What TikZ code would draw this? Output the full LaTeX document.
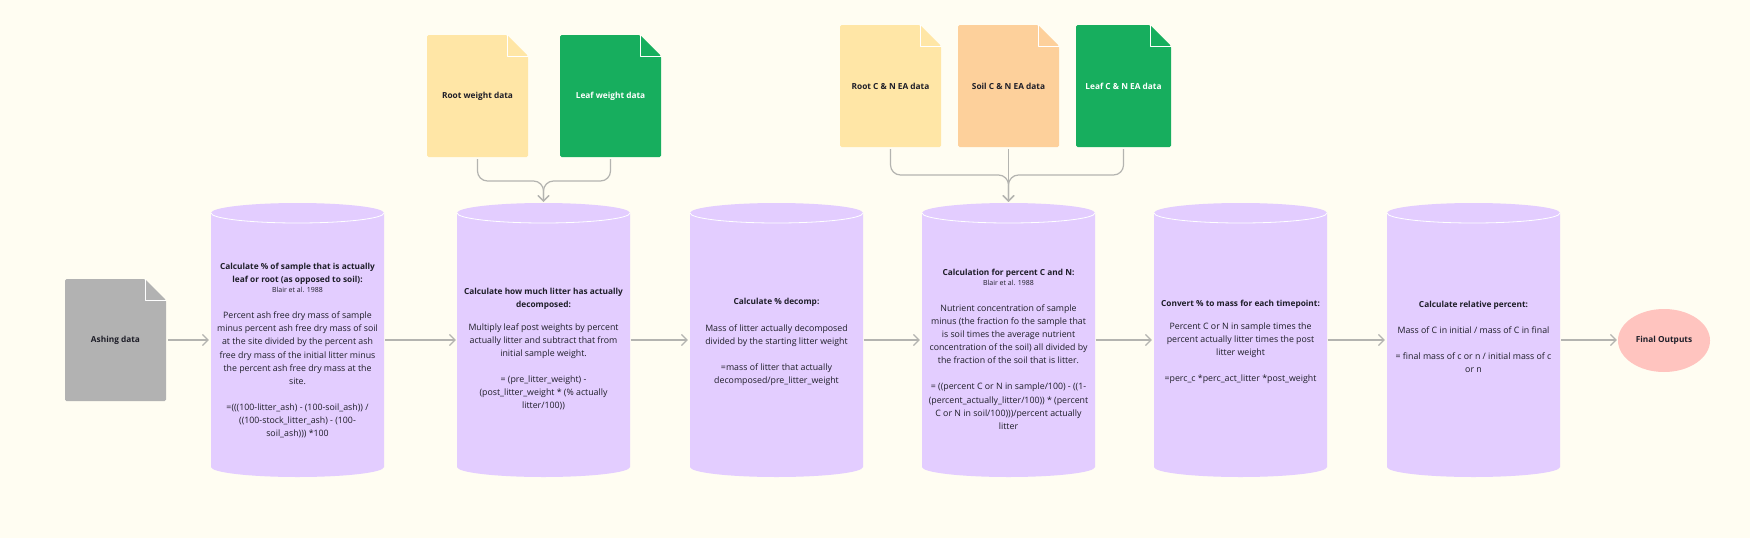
\documentclass[tikz,border=0pt]{standalone}
\usepackage{fontspec}
\setmainfont{Open Sans}
\usetikzlibrary{arrows.meta,shapes.geometric}
\definecolor{bgc}{HTML}{FFFDF2}
\definecolor{cylc}{HTML}{E3CDFF}
\definecolor{yelc}{HTML}{FFE6A6}
\definecolor{orac}{HTML}{FDD09B}
\definecolor{grnc}{HTML}{17AE5E}
\definecolor{gryc}{HTML}{B2B2B2}
\definecolor{pnkc}{HTML}{FFC4BF}
\definecolor{linc}{HTML}{B4B4B0}
\definecolor{txtc}{HTML}{1E1E28}
\newcommand{\hd}[1]{{\fontsize{8.3}{13.1}\selectfont\bfseries #1}}
\tikzset{
  x=1pt,y=-1pt,
  conn/.style={draw=linc,line width=1.2pt,-{Straight Barb[length=5.5pt,width=11pt,line width=1.2pt]}},
  merge/.style={conn,rounded corners=10pt},
  cylbody/.style={minimum width=173pt,minimum height=274pt,inner sep=0pt},
  cyltext/.style={align=center,inner sep=0pt,text=txtc,font=\fontsize{8.8}{13.1}\selectfont},
  docbody/.style={minimum height=122pt,inner sep=0pt,align=center,font=\fontsize{8.3}{12}\selectfont\bfseries},
  final/.style={ellipse,fill=pnkc,minimum width=92pt,minimum height=63pt,inner sep=0pt,text=txtc,font=\fontsize{8.3}{12}\selectfont\bfseries},
}
\newcommand{\CylShape}[2]{% name, centre x
  \begin{scope}[shift={(#2,0)}]
    \fill[cylc] (-86.5,213) .. controls +(0,-5.5) and +(-47.6,0) .. (0,203)
       .. controls +(47.6,0) and +(0,-5.5) .. (86.5,213) -- (86.5,467)
       .. controls +(0,5.5) and +(47.6,0) .. (0,477)
       .. controls +(-47.6,0) and +(0,5.5) .. (-86.5,467) -- cycle;
    \draw[white,line width=0.8pt] (-86.5,213) .. controls +(0,5.5) and +(-47.6,0) .. (0,223)
       .. controls +(47.6,0) and +(0,5.5) .. (86.5,213);
    \node[cylbody] (#1) at (0,340) {};
  \end{scope}
}
\newcommand{\DocShape}[7]{% name, left x, top y, width, fill, text colour, label
  \begin{scope}[shift={(#2,#3)}]
    \fill[#5,rounded corners=1.5pt] (0,0) -- (#4-21,0) -- (#4,21) -- (#4,122) -- (0,122) -- cycle;
    \draw[white,line width=0.8pt,line join=round] (#4-21,0) -- (#4-21,21) -- (#4,21);
    \node[docbody,minimum width=#4 pt,text=#6] (#1) at (#4/2,61) {#7};
  \end{scope}
}
\newcommand{\smalltxt}[1]{{\fontsize{7}{10}\selectfont #1}}
\begin{document}
\begin{tikzpicture}
\fill[bgc] (0,0) rectangle (1750,538);
\useasboundingbox (0,0) rectangle (1750,538);

\DocShape{ash}{65}{279}{101}{gryc}{txtc}{Ashing data}
\DocShape{rootw}{427}{35}{101}{yelc}{txtc}{Root weight data}
\DocShape{leafw}{560}{35}{101}{grnc}{white}{Leaf weight data}
\DocShape{rootea}{840}{25}{101}{yelc}{txtc}{Root C \& N EA data}
\DocShape{soilea}{958}{25}{101}{orac}{txtc}{Soil C \& N EA data}
\DocShape{leafea}{1076}{25}{95}{grnc}{white}{Leaf C \& N EA data}

\CylShape{c1}{297.5}
\CylShape{c2}{543.5}
\CylShape{c3}{776.5}
\CylShape{c4}{1008.5}
\CylShape{c5}{1240.5}
\CylShape{c6}{1473.5}

\node[cyltext] (t1) at (297.5,350.5) {\hd{Calculate \% of sample that is actually}\\\hd{leaf or root (as opposed to soil):}\\[-3pt]\smalltxt{Blair et al. 1988}\\[13.1pt]Percent ash free dry mass of sample\\minus percent ash free dry mass of soil\\at the site divided by the percent ash\\free dry mass of the initial litter minus\\the percent ash free dry mass at the\\site.\\[13.1pt]=(((100-litter\_ash) - (100-soil\_ash)) /\\((100-stock\_litter\_ash) - (100-\\soil\_ash))) *100};
\node[cyltext] (t2) at (543.5,349) {\hd{Calculate how much litter has actually}\\\hd{decomposed:}\\[10pt]Multiply leaf post weights by percent\\actually litter and subtract that from\\initial sample weight.\\[13.1pt]= (pre\_litter\_weight) -\\(post\_litter\_weight * (\% actually\\litter/100))};
\node[cyltext] (t3) at (776.5,342) {\hd{Calculate \% decomp:}\\[13.1pt]Mass of litter actually decomposed\\divided by the starting litter weight\\[13.1pt]=mass of litter that actually\\decomposed/pre\_litter\_weight};
\node[cyltext] (t4) at (1008.5,349) {\hd{Calculation for percent C and N:}\\[-3pt]\smalltxt{Blair et al. 1988}\\[13.1pt]Nutrient concentration of sample\\minus (the fraction fo the sample that\\is soil times the average nutrient\\concentration of the soil) all divided by\\the fraction of the soil that is litter.\\[13.1pt]= ((percent C or N in sample/100) - ((1-\\(percent\_actually\_litter/100)) * (percent\\C or N in soil/100)))/percent actually\\litter};
\node[cyltext] (t5) at (1240.5,342) {\hd{Convert \% to mass for each timepoint:}\\[10pt]Percent C or N in sample times the\\percent actually litter times the post\\litter weight\\[13.1pt]=perc\_c *perc\_act\_litter *post\_weight};
\node[cyltext] (t6) at (1473.5,337) {\hd{Calculate relative percent:}\\[13.1pt]Mass of C in initial / mass of C in final\\[13.1pt]= final mass of c or n / initial mass of c\\or n};

\node[final] (out) at (1664,340.5) {Final Outputs};

\coordinate (m2) at (543.5,181);
\coordinate (m4) at (1008.5,175);

\draw[conn,shorten <=2pt,shorten >=2pt] (ash.east) -- (ash.east -| c1.west);
\draw[conn,shorten <=1pt,shorten >=1pt] (c1.east) -- (c2.west);
\draw[conn,shorten <=0.5pt,shorten >=2pt] (c2.east) -- (c3.west);
\draw[conn,shorten <=0.5pt,shorten >=2pt] (c3.east) -- (c4.west);
\draw[conn,shorten <=0.5pt,shorten >=2pt] (c4.east) -- (c5.west);
\draw[conn,shorten <=0.5pt,shorten >=2pt] (c5.east) -- (c6.west);
\draw[conn,shorten <=1pt,shorten >=1pt] (c6.east) -- (c6.east -| out.west);

\draw[merge,shorten <=2pt,shorten >=1pt] (rootw.south) -- (rootw.south |- m2) -- (m2) -- (c2.north);
\draw[merge,shorten <=2pt,shorten >=1pt] (leafw.south) -- (leafw.south |- m2) -- (m2) -- (c2.north);
\draw[merge,shorten <=2pt,shorten >=1pt] (rootea.south) -- (rootea.south |- m4) -- (m4) -- (c4.north);
\draw[conn,shorten <=2pt,shorten >=1pt] (soilea.south) -- (c4.north);
\draw[merge,shorten <=2pt,shorten >=1pt] (leafea.south) -- (leafea.south |- m4) -- (m4) -- (c4.north);
\end{tikzpicture}
\end{document}
